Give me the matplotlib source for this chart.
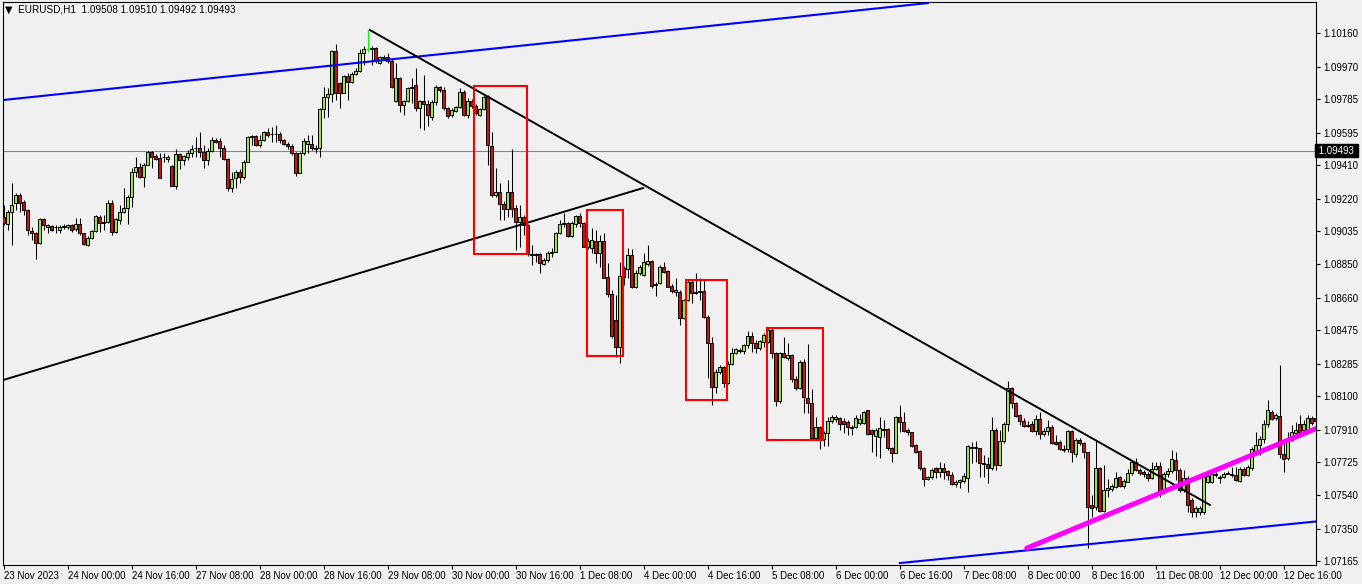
import matplotlib
matplotlib.use("Agg")
import matplotlib.pyplot as plt
import matplotlib.transforms as mtransforms
from matplotlib.patches import Rectangle
import numpy as np

# ---------------------------------------------------------------------------
# Data (prices in points, 1 point = 0.00001)
# ---------------------------------------------------------------------------
open_pts = [
    109117, 109077, 109145, 109196, 109241, 109202, 109156, 109037, 109026, 108969,
    109105, 109060, 109066, 109060, 109043, 109060, 109060, 109071, 109049, 109077,
    109026, 108958, 108998, 109037, 109117, 109088, 109088, 109196, 109032, 109100,
    109145, 109168, 109230, 109372, 109400, 109343, 109411, 109485, 109463, 109451,
    109457, 109446, 109406, 109292, 109474, 109440, 109457, 109480, 109508, 109508,
    109485, 109440, 109491, 109553, 109548, 109508, 109446, 109281, 109338, 109372,
    109343, 109428, 109570, 109576, 109525, 109553, 109599, 109587, 109585, 109587,
    109553, 109531, 109519, 109480, 109366, 109480, 109531, 109531, 109508, 109508,
    109729, 109797, 109814, 110058, 109876, 109820, 109916, 109882, 109927, 109944,
    110046, 110069, 110069, 110075, 109990, 110018, 110024, 110001, 109774, 109905,
    109752, 109774, 109848, 109865, 109735, 109774, 109757, 109684, 109769, 109854,
    109837, 109735, 109695, 109718, 109740, 109825, 109695, 109774, 109746, 109695,
    109729, 109803, 109519, 109242, 109259, 109190, 109162, 109259, 109168, 109088,
    109117, 109071, 108907, 108907, 108907, 108850, 108873, 108913, 108918, 109026,
    109077, 109083, 109009, 109077, 109122, 109083, 108947, 108941, 108981, 108913,
    108981, 108776, 108680, 108533, 108380, 108827, 108822, 108901, 108720, 108799,
    108788, 108850, 108867, 108731, 108742, 108833, 108810, 108725, 108691, 108691,
    108544, 108646, 108748, 108691, 108697, 108697, 108550, 108402, 108153, 108238,
    108266, 108175, 108283, 108345, 108362, 108357, 108391, 108442, 108402, 108374,
    108408, 108408, 108476, 108345, 108073, 108345, 108317, 108334, 108198, 108147,
    108294, 108090, 108062, 107864, 107926, 107858, 107892, 107960, 107972, 107977,
    107960, 107954, 107926, 107926, 107949, 107949, 108022, 107909, 107875, 107869,
    107915, 107915, 107807, 107779, 107983, 107954, 107909, 107898, 107824, 107790,
    107694, 107631, 107642, 107694, 107671, 107694, 107677, 107654, 107603, 107614,
    107620, 107637, 107813, 107807, 107807, 107722, 107716, 107694, 107909, 107711,
    107847, 107943, 108147, 108062, 107994, 107960, 107932, 107943, 107903, 107971,
    107886, 107903, 107926, 107841, 107841, 107801, 107801, 107903, 107773, 107852,
    107835, 107784, 107484, 107472, 107693, 107450, 107569, 107574, 107586, 107642,
    107591, 107614, 107665, 107728, 107682, 107671, 107660, 107637, 107688, 107705,
    107557, 107660, 107677, 107739, 107682, 107569, 107637, 107512, 107444, 107444,
    107444, 107614, 107614, 107654, 107637, 107643, 107665, 107660, 107654, 107620,
    107688, 107654, 107694, 107784, 107824, 107858, 107943, 108011, 107977, 107988,
    107773, 107750, 107852, 107892, 107943, 107909, 107909, 107977, 107977,
]
high_pts = [
    109185, 109156, 109309, 109253, 109253, 109213, 109160, 109060, 109032, 109111,
    109111, 109077, 109071, 109071, 109071, 109077, 109077, 109077, 109111, 109111,
    109026, 109009, 109043, 109128, 109128, 109128, 109213, 109213, 109111, 109185,
    109281, 109241, 109394, 109457, 109423, 109423, 109491, 109491, 109474, 109480,
    109480, 109468, 109411, 109502, 109480, 109468, 109497, 109525, 109570, 109599,
    109525, 109508, 109570, 109565, 109565, 109525, 109451, 109372, 109383, 109389,
    109440, 109576, 109582, 109582, 109582, 109604, 109621, 109627, 109638, 109599,
    109559, 109542, 109531, 109485, 109485, 109565, 109582, 109582, 109525, 109735,
    109854, 109848, 110063, 110098, 109882, 109922, 109933, 109939, 109961, 110069,
    110086, 110177, 110086, 110080, 110029, 110035, 110046, 110018, 109990, 109910,
    109780, 109854, 109905, 109961, 109780, 109922, 109780, 109780, 109865, 109860,
    109854, 109740, 109735, 109746, 109848, 109837, 109791, 109786, 109757, 109735,
    109814, 109808, 109599, 109394, 109309, 109207, 109326, 109502, 109185, 109185,
    109128, 109077, 108958, 108913, 108913, 108884, 108924, 108941, 109032, 109100,
    109139, 109088, 109094, 109128, 109139, 109088, 108998, 109054, 109043, 109015,
    109026, 108856, 108703, 108674, 108862, 108839, 108941, 108935, 108816, 108845,
    108913, 108958, 108873, 108748, 108845, 108862, 108816, 108737, 108771, 108703,
    108652, 108765, 108759, 108799, 108771, 108765, 108561, 108436, 108255, 108277,
    108272, 108300, 108374, 108374, 108374, 108396, 108470, 108464, 108419, 108419,
    108459, 108487, 108487, 108351, 108351, 108436, 108402, 108340, 108215, 108306,
    108311, 108396, 108141, 107983, 107932, 107903, 107983, 107994, 107994, 107983,
    107977, 107966, 107937, 107994, 107999, 108017, 108022, 107915, 107920, 107983,
    107966, 107920, 107813, 107988, 108051, 108011, 107920, 107898, 107830, 107796,
    107699, 107648, 107694, 107699, 107728, 107722, 107682, 107671, 107626, 107631,
    107665, 107824, 107841, 107847, 107807, 107767, 107756, 107983, 107920, 107909,
    107954, 108187, 108153, 108068, 107999, 107977, 107960, 107960, 107994, 108011,
    107920, 107966, 107937, 107881, 107852, 107824, 107909, 107909, 107864, 107864,
    107841, 107784, 107540, 107852, 107699, 107710, 107631, 107603, 107671, 107648,
    107631, 107688, 107739, 107750, 107694, 107682, 107671, 107728, 107728, 107728,
    107671, 107694, 107796, 107784, 107694, 107682, 107648, 107523, 107478, 107478,
    107654, 107660, 107671, 107671, 107654, 107671, 107677, 107699, 107699, 107699,
    107699, 107711, 107813, 107898, 107875, 107966, 108079, 108022, 108005, 108277,
    107841, 107898, 107937, 107954, 107994, 107966, 107994, 107988, 107988,
]
low_pts = [
    109071, 109043, 108958, 109156, 109145, 109128, 109015, 108986, 108879, 108966,
    109043, 109026, 109037, 109026, 109026, 109049, 109049, 109032, 109037, 109015,
    108958, 108952, 108992, 109032, 109032, 109043, 109083, 109015, 109026, 109077,
    109139, 109077, 109174, 109343, 109338, 109287, 109411, 109394, 109440, 109338,
    109428, 109428, 109292, 109275, 109389, 109411, 109440, 109457, 109457, 109457,
    109394, 109411, 109485, 109536, 109457, 109440, 109264, 109258, 109281, 109309,
    109332, 109428, 109525, 109519, 109514, 109548, 109570, 109542, 109542, 109536,
    109525, 109502, 109468, 109349, 109366, 109468, 109480, 109497, 109480, 109457,
    109678, 109684, 109769, 109780, 109735, 109820, 109780, 109876, 109922, 109939,
    109978, 110052, 109978, 109990, 109984, 110007, 109990, 109848, 109769, 109712,
    109695, 109769, 109763, 109718, 109621, 109610, 109633, 109667, 109752, 109825,
    109723, 109678, 109684, 109712, 109735, 109689, 109678, 109735, 109695, 109689,
    109723, 109412, 109230, 109230, 109100, 109100, 109117, 109117, 108930, 108947,
    109015, 108896, 108845, 108862, 108799, 108845, 108862, 108890, 108918, 109020,
    109060, 109003, 109003, 109060, 109060, 108947, 108935, 108913, 108856, 108833,
    108771, 108663, 108430, 108323, 108289, 108731, 108771, 108714, 108714, 108788,
    108782, 108839, 108714, 108669, 108737, 108799, 108720, 108686, 108669, 108504,
    108538, 108640, 108629, 108680, 108646, 108544, 108204, 108051, 108119, 108226,
    108153, 108170, 108277, 108340, 108345, 108340, 108374, 108351, 108345, 108362,
    108379, 108402, 108317, 108045, 108062, 108317, 108306, 108181, 108136, 108141,
    108005, 108005, 107858, 107852, 107801, 107818, 107818, 107949, 107954, 107909,
    107892, 107881, 107881, 107920, 107937, 107943, 107881, 107784, 107762, 107750,
    107869, 107796, 107728, 107779, 107898, 107898, 107881, 107813, 107779, 107682,
    107591, 107626, 107631, 107637, 107642, 107631, 107626, 107597, 107586, 107580,
    107609, 107557, 107722, 107728, 107642, 107642, 107609, 107682, 107682, 107705,
    107835, 107903, 108034, 107983, 107937, 107926, 107926, 107898, 107881, 107858,
    107875, 107881, 107830, 107824, 107796, 107784, 107784, 107728, 107756, 107824,
    107750, 107240, 107415, 107455, 107444, 107444, 107529, 107563, 107580, 107586,
    107580, 107614, 107654, 107677, 107654, 107643, 107620, 107631, 107682, 107529,
    107546, 107643, 107665, 107626, 107557, 107557, 107444, 107416, 107416, 107427,
    107433, 107609, 107609, 107643, 107609, 107637, 107660, 107643, 107620, 107614,
    107648, 107648, 107682, 107767, 107767, 107835, 107926, 107966, 107966, 107750,
    107671, 107739, 107847, 107886, 107881, 107903, 107898, 107937, 107949,
]
close_pts = [
    109083, 109145, 109185, 109241, 109196, 109156, 109043, 109026, 108969, 109105,
    109071, 109071, 109043, 109058, 109060, 109066, 109071, 109043, 109077, 109026,
    108964, 108998, 109037, 109122, 109083, 109085, 109196, 109032, 109105, 109145,
    109168, 109230, 109372, 109400, 109343, 109411, 109485, 109457, 109446, 109338,
    109455, 109457, 109292, 109474, 109440, 109463, 109480, 109502, 109506, 109485,
    109440, 109491, 109553, 109542, 109508, 109446, 109281, 109332, 109372, 109343,
    109428, 109570, 109576, 109525, 109553, 109599, 109582, 109585, 109587, 109553,
    109531, 109519, 109480, 109366, 109480, 109548, 109548, 109508, 109502, 109729,
    109797, 109814, 110058, 109820, 109820, 109916, 109882, 109927, 109944, 110046,
    110069, 110069, 110075, 110007, 110024, 110024, 110001, 109854, 109905, 109752,
    109774, 109848, 109854, 109735, 109774, 109757, 109695, 109769, 109854, 109837,
    109735, 109689, 109723, 109740, 109825, 109695, 109774, 109746, 109706, 109729,
    109797, 109525, 109242, 109259, 109190, 109162, 109259, 109162, 109088, 109117,
    109071, 108907, 108901, 108901, 108856, 108873, 108913, 108918, 109026, 109077,
    109082, 109009, 109083, 109122, 109083, 108947, 108981, 108986, 108913, 108981,
    108771, 108680, 108442, 108380, 108782, 108776, 108901, 108720, 108799, 108833,
    108862, 108867, 108725, 108737, 108833, 108805, 108720, 108697, 108703, 108544,
    108646, 108748, 108686, 108686, 108691, 108550, 108402, 108153, 108238, 108266,
    108175, 108283, 108345, 108368, 108357, 108391, 108442, 108402, 108374, 108413,
    108448, 108476, 108345, 108073, 108345, 108323, 108334, 108198, 108147, 108294,
    108096, 108062, 107864, 107926, 107858, 107892, 107960, 107983, 107983, 107943,
    107943, 107926, 107920, 107977, 107972, 108011, 107886, 107886, 107909, 107920,
    107909, 107807, 107779, 107983, 107954, 107903, 107898, 107818, 107784, 107694,
    107631, 107642, 107682, 107671, 107694, 107671, 107654, 107603, 107614, 107626,
    107648, 107818, 107807, 107813, 107722, 107716, 107694, 107909, 107711, 107847,
    107943, 108147, 108062, 107988, 107960, 107932, 107937, 107903, 107971, 107886,
    107903, 107926, 107835, 107830, 107801, 107796, 107903, 107784, 107852, 107835,
    107784, 107472, 107467, 107693, 107450, 107569, 107580, 107591, 107637, 107591,
    107620, 107665, 107728, 107682, 107665, 107660, 107637, 107688, 107705, 107557,
    107660, 107677, 107745, 107682, 107569, 107637, 107484, 107444, 107467, 107467,
    107643, 107648, 107660, 107660, 107643, 107660, 107660, 107654, 107626, 107688,
    107654, 107699, 107801, 107824, 107858, 107943, 108022, 107971, 107994, 107773,
    107745, 107852, 107898, 107909, 107898, 107943, 107977, 107949, 107960,
]

x_labels = [
    "23 Nov 2023", "24 Nov 00:00", "24 Nov 16:00", "27 Nov 08:00", "28 Nov 00:00",
    "28 Nov 16:00", "29 Nov 08:00", "30 Nov 00:00", "30 Nov 16:00", "1 Dec 08:00",
    "4 Dec 00:00", "4 Dec 16:00", "5 Dec 08:00", "6 Dec 00:00", "6 Dec 16:00",
    "7 Dec 08:00", "8 Dec 00:00", "8 Dec 16:00", "11 Dec 08:00", "12 Dec 00:00",
    "12 Dec 16:00",
]
bars_per_label = 16

y_ticks = [1.10160, 1.09970, 1.09785, 1.09595, 1.09410, 1.09220, 1.09035, 1.08850,
           1.08660, 1.08475, 1.08285, 1.08100, 1.07910, 1.07725, 1.07540, 1.07350,
           1.07165]

bid_price = 1.09493
header = "EURUSD,H1  1.09508 1.09510 1.09492 1.09493"

# trend lines: (bar index, price) end points
blue_top = ([-0.125, 231.1], [1.09780, 1.10330])
blue_low = ([224.1, 330.0], [1.07154, 1.07394])
black_down = ([91.6, 301.6], [1.10177, 1.07484])
black_up = ([-0.125, 159.9], [1.08192, 1.09281])
magenta = ([255.8, 330.0], [1.07238, 1.07934])

# red boxes: bar from, bar to, price low, price high
boxes = [
    (117.6, 130.9, 1.08907, 1.09859),
    (145.9, 154.9, 1.08328, 1.09156),
    (170.6, 180.9, 1.08079, 1.08759),
    (190.9, 204.9, 1.07852, 1.08487),
]

# ---------------------------------------------------------------------------
# Style
# ---------------------------------------------------------------------------
BG = "#f0f0f0"
BULL = "#9ee33a"
BEAR = "#cc1111"
DOJI = "#00ff00"

plt.rcParams["font.family"] = ["Liberation Sans", "DejaVu Sans"]

W, H = 1362, 584
fig = plt.figure(figsize=(W / 100, H / 100), dpi=100)
fig.patch.set_facecolor(BG)

ax = fig.add_axes([2.5 / W, (H - 565) / H, (1316 - 2.5) / W, (565 - 2) / H])
ax.set_facecolor(BG)

o = np.array(open_pts) / 1e5
h = np.array(high_pts) / 1e5
lo = np.array(low_pts) / 1e5
c = np.array(close_pts) / 1e5
idx = np.arange(len(o))

doji = o == c
up = c > o
dn = c < o

# wicks
ax.vlines(idx[~doji], lo[~doji], h[~doji], color="black", lw=0.75, zorder=2)
ax.vlines(idx[doji], lo[doji], h[doji], color=DOJI, lw=0.9, zorder=2)
ax.hlines(c[doji], idx[doji] - 0.3, idx[doji] + 0.3, color=DOJI, lw=0.9, zorder=2)

# bodies
bottom = np.minimum(o, c)
height = np.abs(c - o)
ax.bar(idx[up], height[up], bottom=bottom[up], width=0.55, color=BULL,
       edgecolor="black", linewidth=0.7, zorder=3)
ax.bar(idx[dn], height[dn], bottom=bottom[dn], width=0.55, color=BEAR,
       edgecolor="black", linewidth=0.7, zorder=3)

# bid line
ax.axhline(bid_price, color="#778899", lw=0.8, zorder=1)

# trend lines
ax.plot(*blue_top, color="#0000ff", lw=1.5, zorder=4)
ax.plot(*blue_low, color="#0000ff", lw=1.5, zorder=4)
ax.plot(*black_down, color="black", lw=1.4, zorder=4)
ax.plot(*black_up, color="black", lw=1.4, zorder=4)
ax.plot(*magenta, color="#ff00ff", lw=3.6, solid_capstyle="round", zorder=4)

for b0, b1, p0, p1 in boxes:
    ax.add_patch(Rectangle((b0, p0), b1 - b0, p1 - p0, fill=False,
                           edgecolor="#ff0000", lw=1.5, zorder=5))

# axes limits (pixel frame of the reference)
ax.set_xlim(-0.25, 328.125)
ax.set_ylim(1.07143, 1.10336)

for sp in ax.spines.values():
    sp.set_color("black")
    sp.set_linewidth(0.8)

# y axis on the right
ax.yaxis.tick_right()
ax.set_yticks(y_ticks)
ax.set_yticklabels([f"{v:.5f}" for v in y_ticks])
ax.tick_params(axis="y", direction="out", length=3, width=0.8, pad=2,
               labelsize=7, colors="black")

# x axis labels, left-aligned on the tick
ax.set_xticks(np.arange(len(x_labels)) * bars_per_label)
ax.set_xticklabels(x_labels)
for lbl in ax.get_xticklabels():
    lbl.set_horizontalalignment("left")
ax.tick_params(axis="x", direction="out", length=3, width=0.8, pad=1.5,
               labelsize=7, colors="black")

# bid price tag
trans = mtransforms.blended_transform_factory(ax.transAxes, ax.transData)
ax.text(1.0, bid_price, " 1.09493 ", transform=trans, ha="left", va="center",
        color="white", fontsize=7, zorder=10, clip_on=False,
        bbox=dict(boxstyle="square,pad=0.12", fc="black", ec="black"))

# header
fig.text(5 / W, 1 - 10 / H, "\u25bc", fontsize=7, ha="left", va="center",
         family=["DejaVu Sans"])
fig.text(18 / W, 1 - 10 / H, header, fontsize=7.2, ha="left", va="center")

fig.savefig("out.png", dpi=100, facecolor=BG)
